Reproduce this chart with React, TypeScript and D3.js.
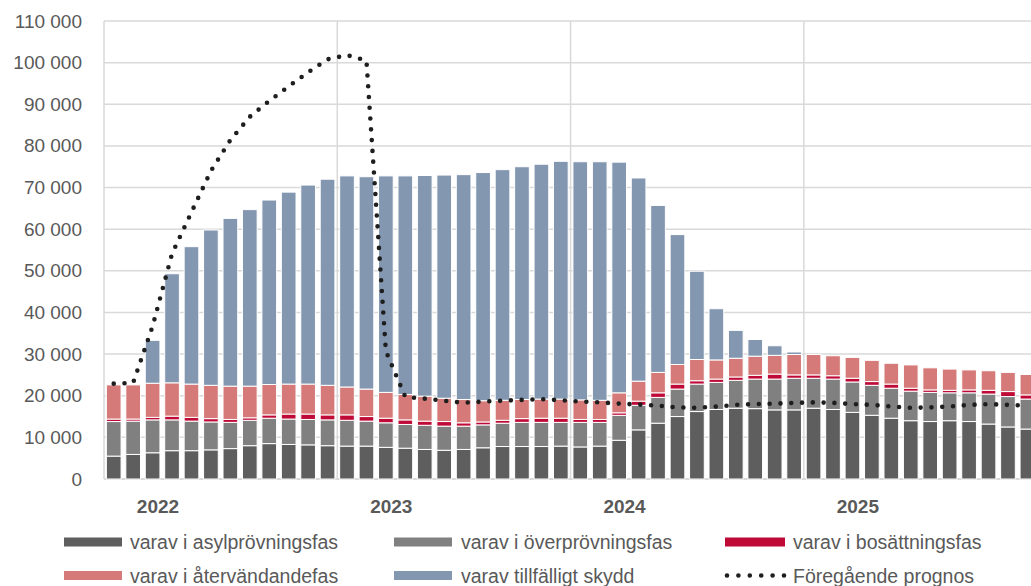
import React from "react";
import * as d3 from "d3";

const months = [
  "2022-01","2022-02","2022-03","2022-04","2022-05","2022-06","2022-07","2022-08","2022-09","2022-10","2022-11","2022-12",
  "2023-01","2023-02","2023-03","2023-04","2023-05","2023-06","2023-07","2023-08","2023-09","2023-10","2023-11","2023-12",
  "2024-01","2024-02","2024-03","2024-04","2024-05","2024-06","2024-07","2024-08","2024-09","2024-10","2024-11","2024-12",
  "2025-01","2025-02","2025-03","2025-04","2025-05","2025-06","2025-07","2025-08","2025-09","2025-10","2025-11","2025-12",
];

const yearLabels = ["2022", "2023", "2024", "2025"];

// cumulative tops (thousands) converted into segment values
const asyl = [5.5,5.9,6.3,6.8,6.8,7.0,7.3,8.0,8.5,8.3,8.2,8.0, 7.9,7.9,7.6,7.4,7.1,6.9,7.1,7.5,7.8,7.8,7.8,7.9, 7.7,7.9,9.3,11.8,13.4,15.0,16.2,16.7,17.0,16.9,16.6,16.6, 17.0,16.7,16.0,15.3,14.6,14.0,13.8,14.0,13.8,13.2,12.5,12.0];
const overprovning = [8.3,8.0,7.9,7.4,7.1,6.7,6.3,6.1,6.1,6.1,6.1,6.2, 6.2,6.0,5.9,5.7,5.8,5.8,5.6,5.5,5.6,5.8,5.8,5.7, 5.9,5.7,6.0,5.9,6.2,6.6,6.6,6.5,6.7,7.1,7.4,7.6, 7.2,7.3,7.3,7.2,7.2,7.1,7.0,6.7,6.9,7.2,7.3,7.2];
const bosattning = [0.6,0.5,0.6,0.9,0.9,0.8,0.7,0.6,0.8,1.2,1.3,1.2, 1.3,1.1,1.1,1.1,1.0,1.1,0.8,0.7,0.7,0.9,1.0,1.0, 0.7,0.7,0.6,1.0,1.1,1.2,0.8,0.8,0.8,0.9,1.2,0.8, 0.8,0.8,0.9,0.9,1.0,0.7,0.6,0.6,0.7,0.9,1.2,1.0];
const atervandande = [8.2,8.2,8.2,8.0,8.0,8.0,8.0,7.6,7.3,7.2,7.2,7.1, 6.7,6.6,6.2,6.1,6.0,5.6,5.6,5.1,4.8,4.6,4.6,4.6, 4.7,4.6,4.8,4.8,4.9,4.7,5.1,4.6,4.5,4.6,4.5,4.9, 4.9,4.8,5.0,5.1,5.0,5.6,5.3,5.1,4.8,4.7,4.6,4.9];
const skydd = [0,0,10.3,26.2,33.0,37.3,40.3,42.4,44.3,46.1,47.8,49.5, 50.7,51.0,52.0,52.5,53.0,53.6,54.0,54.8,55.4,55.9,56.4,57.1, 57.2,57.3,55.4,48.8,40.1,31.2,21.2,12.3,6.7,4.0,2.3,0.6, 0,0,0,0,0,0,0,0,0,0,0,0];
const foregaende = [22.9,23.1,36.7,54.1,64.1,74.0,81.4,87.0,90.8,94.3,97.7,100.8, 101.8,100.5,30.7,19.7,19.3,18.8,18.3,18.6,18.8,19.0,19.2,18.9, 18.6,18.4,18.1,17.9,17.6,17.2,17.1,17.4,17.8,18.0,18.1,18.3, 18.4,18.3,18.0,17.8,17.4,17.1,17.2,17.4,17.8,18.0,17.8,17.6];

const yTicks = [0,10000,20000,30000,40000,50000,60000,70000,80000,90000,100000,110000];

const seriesKeys = ["asyl", "overprovning", "bosattning", "atervandande", "skydd"];
const seriesNames = [
  "varav i asylprövningsfas",
  "varav i överprövningsfas",
  "varav i bosättningsfas",
  "varav i återvändandefas",
  "varav tillfälligt skydd",
];
const seriesColors = ["#5e5e5e", "#808080", "#bf0a37", "#d57a78", "#8497b0"];

const W = 1031;
const H = 586;
const left = 104;
const top = 21;
const bottom = 479;
const FONT = "'Liberation Sans', Arial, sans-serif";
const TEXT = "#595959";
const GRID = "#d9d9d9";

export default function App() {
  const step = 19.44;
  const x = d3
    .scaleBand<string>()
    .domain(months)
    .range([left, left + step * months.length])
    .paddingInner(0.245)
    .paddingOuter(0.1225);
  const y = d3.scaleLinear().domain([0, 110000]).range([bottom, top]);

  const rows = months.map((m, i) => ({
    month: m,
    asyl: asyl[i] * 1000,
    overprovning: overprovning[i] * 1000,
    bosattning: bosattning[i] * 1000,
    atervandande: atervandande[i] * 1000,
    skydd: skydd[i] * 1000,
  }));
  const stacked = d3.stack<any>().keys(seriesKeys)(rows);

  const fmt = (v: number) => d3.format(",")(v).replace(/,/g, " ");

  const line = d3
    .line<number>()
    .x((_, i) => (x(months[i]) as number) + x.bandwidth() / 2)
    .y((v) => y(v * 1000));

  const realStep = x.step();
  const x0 = left;
  const yearX = yearLabels.map((_, i) => x0 + i * 12 * realStep);

  const legendItems = [
    { name: seriesNames[0], color: seriesColors[0], sx: 64, sw: 58, tx: 130, row: 0 },
    { name: seriesNames[1], color: seriesColors[1], sx: 394, sw: 58, tx: 461, row: 0 },
    { name: seriesNames[2], color: seriesColors[2], sx: 725, sw: 60, tx: 793, row: 0 },
    { name: seriesNames[3], color: seriesColors[3], sx: 64, sw: 58, tx: 130, row: 1 },
    { name: seriesNames[4], color: seriesColors[4], sx: 394, sw: 58, tx: 461, row: 1 },
  ];
  const rowY = [542, 575.5];

  return (
    <div style={{ position: "absolute", left: 0, top: 0 }}>
      <svg width={W} height={H} style={{ display: "block", background: "#fff" }}>
        <defs>
          <clipPath id="plotclip">
            <rect x={left} y={0} width={W - left} height={bottom + 2} />
          </clipPath>
        </defs>
        {/* horizontal gridlines */}
        {yTicks.map((t) => (
          <line key={"g" + t} x1={left} x2={W} y1={y(t)} y2={y(t)} stroke={GRID} strokeWidth={t === 0 ? 2 : 1.5} />
        ))}
        {/* vertical year gridlines */}
        {yearX.map((gx, i) => (
          <line key={"v" + i} x1={gx} x2={gx} y1={top} y2={bottom} stroke={GRID} strokeWidth={1.5} />
        ))}
        {/* y tick labels */}
        {yTicks.map((t) => (
          <text
            key={"t" + t}
            x={82}
            y={y(t)}
            textAnchor="end"
            dominantBaseline="central"
            fontFamily={FONT}
            fontSize={19}
            fill={TEXT}
          >
            {fmt(t)}
          </text>
        ))}
        {/* bars */}
        <g clipPath="url(#plotclip)">
          {stacked.map((s, si) => (
            <g key={s.key} fill={seriesColors[si]}>
              {s.map((d, i) => {
                const h = y(d[0]) - y(d[1]);
                if (h <= 0.01) return null;
                return (
                  <rect
                    key={i}
                    x={x(months[i])}
                    y={y(d[1])}
                    width={x.bandwidth()}
                    height={h}
                    stroke="#ffffff"
                    strokeWidth={1}
                  />
                );
              })}
            </g>
          ))}
          {/* previous forecast dotted line */}
          <path
            d={line(foregaende) || ""}
            fill="none"
            stroke="#1e1e1e"
            strokeWidth={4.6}
            strokeLinecap="round"
            strokeDasharray="0 10.8"
          />
        </g>
        {/* year labels */}
        {yearLabels.map((yl, i) => (
          <text
            key={yl}
            x={yearX[i] + 54}
            y={513}
            textAnchor="middle"
            fontFamily={FONT}
            fontWeight="bold"
            fontSize={19}
            fill={TEXT}
          >
            {yl}
          </text>
        ))}
        {/* legend */}
        {legendItems.map((it) => (
          <g key={it.name}>
            <rect x={it.sx} y={rowY[it.row] - 4.5} width={it.sw} height={9} fill={it.color} />
            <text
              x={it.tx}
              y={rowY[it.row]}
              dominantBaseline="central"
              fontFamily={FONT}
              fontSize={19.5}
              fill={TEXT}
            >
              {it.name}
            </text>
          </g>
        ))}
        <line
          x1={727}
          x2={785}
          y1={rowY[1]}
          y2={rowY[1]}
          stroke="#1e1e1e"
          strokeWidth={4.6}
          strokeLinecap="round"
          strokeDasharray="0 11.4"
        />
        <text x={793} y={rowY[1]} dominantBaseline="central" fontFamily={FONT} fontSize={19.5} fill={TEXT}>
          Föregående prognos
        </text>
      </svg>
    </div>
  );
}
